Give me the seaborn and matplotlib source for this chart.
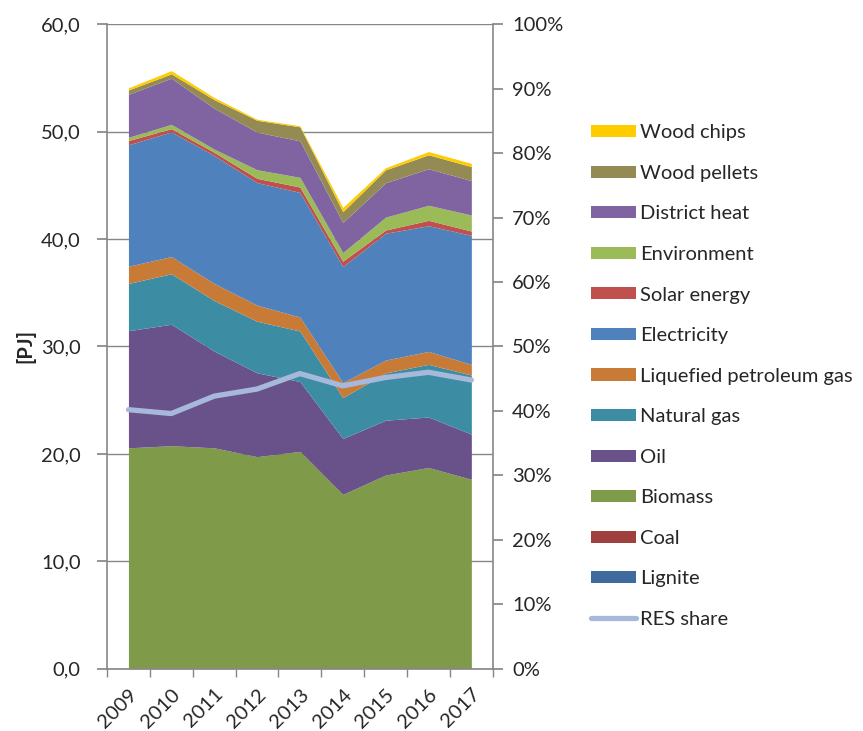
import numpy as np
import pandas as pd
import matplotlib
matplotlib.use('Agg')
import matplotlib.pyplot as plt
import seaborn as sns
from matplotlib.ticker import FuncFormatter, MultipleLocator
from matplotlib.patches import Patch
from matplotlib.lines import Line2D

years = ['2009', '2010', '2011', '2012', '2013', '2014', '2015', '2016', '2017']

# PJ per source, bottom of the stack first
lignite = [0.02, 0.02, 0.02, 0.02, 0.02, 0.02, 0.02, 0.02, 0.02]
coal = [0.05, 0.05, 0.05, 0.03, 0.02, 0.02, 0.02, 0.02, 0.02]
biomass = [20.5, 20.7, 20.5, 19.7, 20.2, 16.2, 18.0, 18.7, 17.6]
oil = [10.9, 11.3, 9.0, 7.8, 6.5, 5.2, 5.1, 4.7, 4.2]
natural_gas = [4.4, 4.7, 4.7, 4.8, 4.7, 3.8, 4.4, 4.9, 5.5]
lpg = [1.6, 1.6, 1.6, 1.5, 1.3, 1.4, 1.2, 1.2, 1.0]
electricity = [11.3, 11.6, 11.9, 11.4, 11.6, 10.8, 11.8, 11.7, 12.0]
solar = [0.4, 0.3, 0.3, 0.4, 0.5, 0.5, 0.3, 0.5, 0.4]
environment = [0.3, 0.4, 0.3, 0.8, 0.9, 0.8, 1.2, 1.4, 1.5]
district_heat = [4.0, 4.3, 3.8, 3.5, 3.4, 2.8, 3.2, 3.4, 3.2]
wood_pellets = [0.4, 0.4, 0.8, 1.1, 1.3, 1.0, 1.2, 1.3, 1.3]
wood_chips = [0.2, 0.3, 0.2, 0.1, 0.1, 0.4, 0.2, 0.3, 0.3]

res_share = [0.402, 0.396, 0.423, 0.434, 0.458, 0.439, 0.452, 0.460, 0.448]

names = ['Lignite', 'Coal', 'Biomass', 'Oil', 'Natural gas', 'Liquefied petroleum gas',
         'Electricity', 'Solar energy', 'Environment', 'District heat', 'Wood pellets', 'Wood chips']
series = [lignite, coal, biomass, oil, natural_gas, lpg, electricity, solar,
          environment, district_heat, wood_pellets, wood_chips]
colors = ['#3F6A9E', '#A0403E', '#7F9A48', '#69518A', '#3C8DA3', '#C87B37',
          '#4F81BD', '#C0504D', '#9BBB59', '#8064A2', '#948A54', '#FFCC00']

sns.set_theme(style='white')
plt.rcParams['font.family'] = ['Lato', 'DejaVu Sans']
grey = '#868686'
fs = 14.5

fig = plt.figure(figsize=(8.63, 7.31), dpi=100)
ax = fig.add_axes([0.124, 0.085, 0.447, 0.882])

x = np.arange(len(years))
ax.stackplot(x, *series, colors=colors, linewidth=0, zorder=2)

ax.set_xlim(-0.5, len(years) - 0.5)
ax.set_ylim(0, 60)
ax.yaxis.set_major_locator(MultipleLocator(10))
ax.yaxis.set_major_formatter(FuncFormatter(lambda v, p: f'{v:.1f}'.replace('.', ',')))
ax.grid(axis='y', color=grey, linewidth=1, zorder=0)
ax.set_axisbelow(True)
ax.set_xticks(x)
ax.set_xticklabels(years, rotation=45, ha='right', rotation_mode='anchor')
ax.set_xticks(np.arange(-0.5, len(years)), minor=True)
ax.tick_params(axis='x', which='major', length=0, labelsize=fs, pad=12)
ax.tick_params(axis='x', which='minor', length=6, color=grey, direction='out', bottom=True)
ax.tick_params(axis='y', length=7, color=grey, direction='out', left=True, labelsize=fs, pad=12)
ax.set_ylabel('[PJ]', fontsize=fs, fontweight='bold', labelpad=4)
for s in ['top', 'right']:
    ax.spines[s].set_visible(False)
for s in ['left', 'bottom']:
    ax.spines[s].set_color(grey)
    ax.spines[s].set_linewidth(1.2)

ax2 = ax.twinx()
res_df = pd.DataFrame({'x': x, 'share': res_share})
sns.lineplot(data=res_df, x='x', y='share', ax=ax2, color='#A7B9DA', linewidth=3.8, zorder=5)
ax2.set_ylim(0, 1)
ax2.yaxis.set_major_locator(MultipleLocator(0.1))
ax2.yaxis.set_major_formatter(FuncFormatter(lambda v, p: f'{v * 100:.0f}%'))
ax2.tick_params(axis='y', length=7, color=grey, direction='out', right=True, labelsize=fs, pad=7)
ax2.set_ylabel('')
ax2.set_xlabel('')
for s in ['top', 'left', 'bottom']:
    ax2.spines[s].set_visible(False)
ax2.spines['right'].set_color(grey)
ax2.spines['right'].set_linewidth(1.2)

handles = [Patch(facecolor=c, edgecolor='none') for c in colors[::-1]]
handles.append(Line2D([0], [0], color='#A7B9DA', linewidth=3.8))
labels = names[::-1] + ['RES share']
fig.legend(handles, labels, loc='upper left', bbox_to_anchor=(0.675, 0.841),
           frameon=False, fontsize=fs, handlelength=2.24, handleheight=0.55,
           handletextpad=0.2, labelspacing=1.17, borderaxespad=0)

fig.savefig('out.png', dpi=100)
